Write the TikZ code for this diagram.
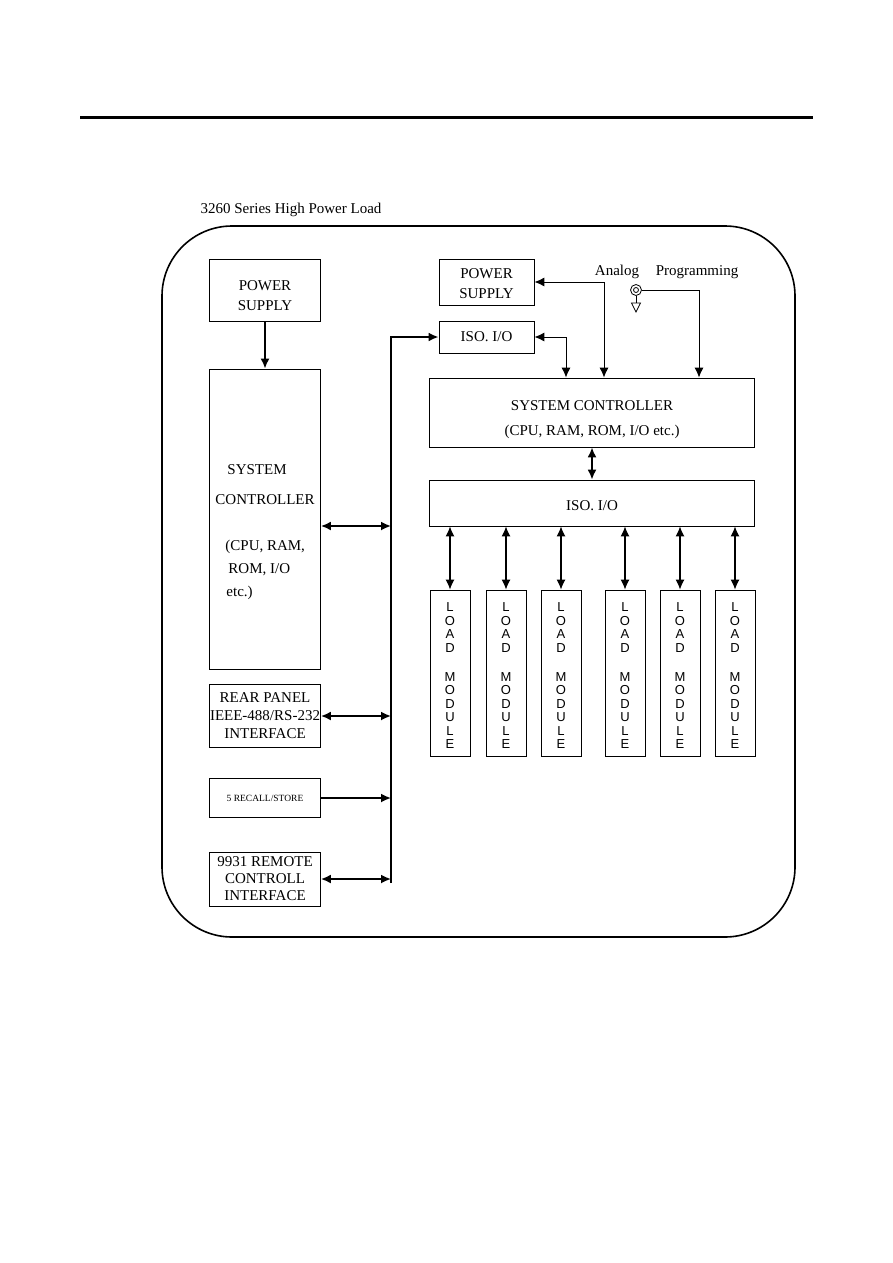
\documentclass[tikz,border=0pt]{standalone}
\usepackage{fontspec}
\setmainfont{Liberation Serif}
\setsansfont{Liberation Sans}
\usetikzlibrary{positioning,calc,arrows.meta}

\begin{document}
\begin{tikzpicture}[x=1pt, y=-1pt,
        every node/.style={font=\fontsize{15}{20}\selectfont, align=center, inner sep=0pt},
        box/.style={draw, line width=0.8pt},
        modbox/.style={draw, line width=0.8pt, minimum width=40pt, minimum height=166pt,
            font=\sffamily\fontsize{13}{13.5}\selectfont},
        link/.style={line width=1.8pt},
        >={Latex[length=10pt,width=9pt]}]
        \useasboundingbox (0,0) rectangle (893,1263);
        \draw[line width=3pt] (80,117) -- (813,117);
        \node (title) at (291,210) {3260 Series High Power Load};
        \draw[line width=1.6pt, rounded corners=70pt] (162,226) rectangle (795,937);

        \node[box, minimum width=111pt, minimum height=62pt] (lps) at (265,290) {\rule{0pt}{22pt}POWER\\SUPPLY};
        \node[box, minimum width=111pt, minimum height=300pt, font=\fontsize{15}{23}\selectfont, align=left] (lsc) at (265,519)
            {\rule{0pt}{36pt}\hspace*{12pt}SYSTEM\\[7pt]CONTROLLER\\[23pt]\hspace*{10pt}(CPU, RAM,\\\hspace*{13pt}ROM, I/O\\\hspace*{11pt}etc.)};
        \node[box, minimum width=111pt, minimum height=63pt, font=\fontsize{15}{18}\selectfont] (rear) at (265,716)
            {REAR PANEL\\IEEE-488/RS-232\\INTERFACE};
        \node[box, minimum width=111pt, minimum height=39pt, font=\fontsize{9.5}{11}\selectfont] (recall) at (265,798)
            {5 RECALL/STORE};
        \node[box, minimum width=111pt, minimum height=54pt, font=\fontsize{15}{17}\selectfont] (remote) at (265,879)
            {9931 REMOTE\\CONTROLL\\INTERFACE};

        \node[box, minimum width=95pt, minimum height=46pt] (rps) at (486.5,282) {\rule{0pt}{14pt}POWER\\SUPPLY};
        \node[box, minimum width=95pt, minimum height=32pt] (tiso) at (486.5,337) {ISO. I/O};
        \node[box, minimum width=325pt, minimum height=69pt, font=\fontsize{15}{25}\selectfont] (rsc) at (592,412.5)
            {\rule{0pt}{24pt}SYSTEM CONTROLLER\\(CPU, RAM, ROM, I/O etc.)};
        \node[box, minimum width=325pt, minimum height=46pt] (riso) at (592,503) {\rule{0pt}{16pt}ISO. I/O};
        \node (analog) at (617,272) {Analog};
        \node (prog) at (697,272) {Programming};

        \coordinate (jack) at (636,290);
        \draw[line width=0.8pt] (jack) circle[radius=5.5pt] (jack) circle[radius=2.5pt];
        \draw[line width=0.8pt] ($(jack)+(0,5.5)$) -- ($(jack)+(0,13)$) coordinate (gnd);
        \draw[line width=0.8pt] ($(gnd)+(-4.5,0)$) -- ($(gnd)+(4.5,0)$) -- ($(gnd)+(0,9)$) -- cycle;

        \draw[link, ->] (lps.south) -- (lsc.north);
        \draw[link, line width=1pt, ->] ($(jack)+(5.5,0)$) -| ([xshift=107pt]rsc.north);
        \draw[link, line width=1pt, <->] (rps.east) -| ([xshift=12pt]rsc.north);
        \draw[link, line width=1pt, <->] (tiso.east) -| ([xshift=-26pt]rsc.north);
        \draw[link, <->] (rsc.south) -- (riso.north);

        \coordinate (busbot) at (391,883);
        \draw[link, line width=2pt, ->] (busbot) |- (tiso.west);
        \draw[link, <->] ([yshift=-7pt]lsc.east) -- ([yshift=-7pt]lsc.east -| busbot);
        \draw[link, <->] (rear.east) -- (rear.east -| busbot);
        \draw[link, ->] (recall.east) -- (recall.east -| busbot);
        \draw[link, <->] (remote.east) -- (remote.east -| busbot);

        \foreach \i/\x in {1/450,2/506,3/561,4/625,5/680,6/735} {
            \node[modbox] (lm\i) at (\x,673) {\rule{0pt}{14pt}L\\O\\A\\D\\[15.5pt]M\\O\\D\\U\\L\\E};
            \draw[link, line width=1.2pt, <->] (lm\i.north) -- (lm\i.north |- riso.south);
        }
    \end{tikzpicture}
\end{document}
